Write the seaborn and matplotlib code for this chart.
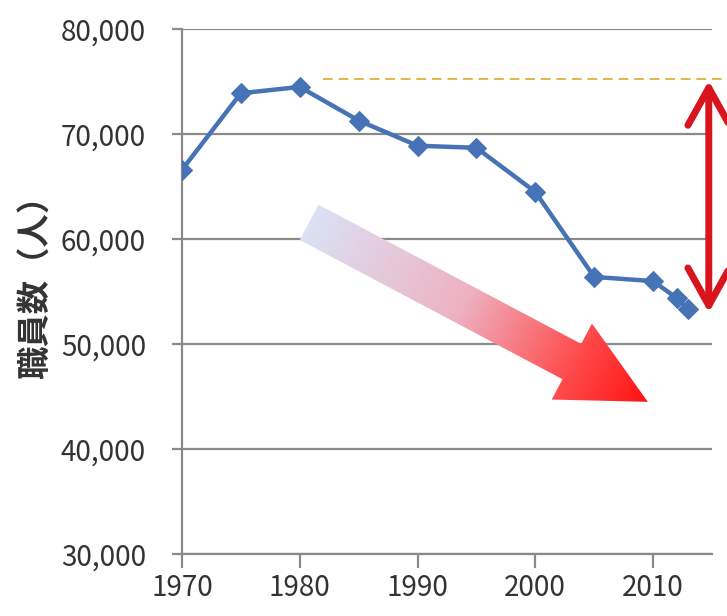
import numpy as np
import pandas as pd
import matplotlib
matplotlib.use("Agg")
import matplotlib.pyplot as plt
from matplotlib.patches import Polygon
from matplotlib.colors import LinearSegmentedColormap
import seaborn as sns

# ---------- data ----------
years = [1970, 1975, 1980, 1985, 1990, 1995, 2000, 2005, 2010, 2012, 2013]
staff = [66600, 73900, 74500, 71300, 68900, 68700, 64500, 56400, 56000, 54400, 53300]
y_ticks = [30000, 40000, 50000, 60000, 70000, 80000]
x_ticks = [1970, 1980, 1990, 2000, 2010]
peak_level = 75300      # dashed reference level (peak staff count)
peak_from = 1982
y_label = "職員数（人）"

df = pd.DataFrame({"year": years, "staff": staff})

sns.set_theme(style="white")
plt.rcParams["font.family"] = ["Noto Sans CJK JP", "DejaVu Sans"]

fig = plt.figure(figsize=(7.27, 6.16), dpi=100)
ax = fig.add_axes([0.2503, 0.1006, 0.729, 0.852])

grid_c = "#8a8a8a"
text_c = "#333333"

# ---------- gradient arrow (trend) ----------
W, H = 530.0, 525.0                      # axes size in px
tail = np.array([0.240 * W, 0.632 * H])
tip = np.array([0.879 * W, 0.290 * H])
d = tip - tail
L = np.hypot(*d)
u = d / L
n = np.array([-u[1], u[0]])
sw, hw, hl = 20.0, 43.0, 86.0
base = tip - hl * u
pts = np.array([tail + sw * n, base + sw * n, base + hw * n, tip,
                base - hw * n, base - sw * n, tail - sw * n])
pts_ax = pts / np.array([W, H])
poly = Polygon(pts_ax, closed=True, transform=ax.transAxes,
               facecolor="none", edgecolor="none", zorder=1)
ax.add_patch(poly)

x0, y0 = pts_ax.min(axis=0)
x1, y1 = pts_ax.max(axis=0)
gx, gy = np.meshgrid(np.linspace(x0, x1, 300), np.linspace(y0, y1, 300))
proj = ((gx * W - tail[0]) * u[0] + (gy * H - tail[1]) * u[1]) / L
proj = np.clip(proj, 0, 1)
cmap = LinearSegmentedColormap.from_list(
    "trend", [(0, "#dbe1f4"), (0.45, "#eeb2c2"), (0.8, "#ff4646"), (1, "#ff1212")])
img = ax.imshow(proj, cmap=cmap, vmin=0, vmax=1, origin="lower",
                extent=[x0, x1, y0, y1], transform=ax.transAxes,
                aspect="auto", zorder=1, interpolation="bilinear")
img.set_clip_path(poly)

# ---------- main line ----------
sns.lineplot(data=df, x="year", y="staff", ax=ax, color="#4673b5",
             linewidth=3.2, marker="D", markersize=10,
             markeredgecolor="#4673b5", zorder=4)

# dashed peak level
ax.plot([peak_from, 2016.6], [peak_level, peak_level], ls=(0, (5, 3)),
        color="#e2b64c", lw=1.4, clip_on=False, zorder=3)

# red double-headed arrow showing the drop
ax.annotate("", xy=(0.994, staff[-1] - 300), xytext=(0.994, peak_level - 200),
            xycoords=ax.get_yaxis_transform(),
            textcoords=ax.get_yaxis_transform(),
            arrowprops=dict(arrowstyle="<->,head_length=1.35,head_width=0.75",
                            color="#d8141c", lw=5, shrinkA=0, shrinkB=0,
                            mutation_scale=20),
            annotation_clip=False, zorder=5)

# ---------- axes styling ----------
ax.set_xlim(1970, 2015)
ax.set_ylim(30000, 80000)
ax.set_xticks(x_ticks)
ax.set_yticks(y_ticks)
ax.set_yticklabels([f"{v:,}" for v in y_ticks])
ax.yaxis.grid(True, color=grid_c, lw=1.6)
ax.xaxis.grid(False)
ax.set_axisbelow(True)
for s in ["top", "right"]:
    ax.spines[s].set_visible(False)
for s in ["left", "bottom"]:
    ax.spines[s].set_color(grid_c)
    ax.spines[s].set_linewidth(1.6)

ax.tick_params(axis="y", left=True, length=7, width=1.6, color=grid_c,
               pad=19, labelsize=20, labelcolor=text_c)
ax.tick_params(axis="x", bottom=True, length=10, width=1.6, color=grid_c,
               pad=4, labelsize=20, labelcolor=text_c)

ax.set_xlabel("")
ax.set_ylabel(y_label, fontsize=24, fontweight="bold", color=text_c)
ax.yaxis.set_label_coords(-0.245, 0.525)

fig.savefig("out.png", dpi=100, facecolor="white")
